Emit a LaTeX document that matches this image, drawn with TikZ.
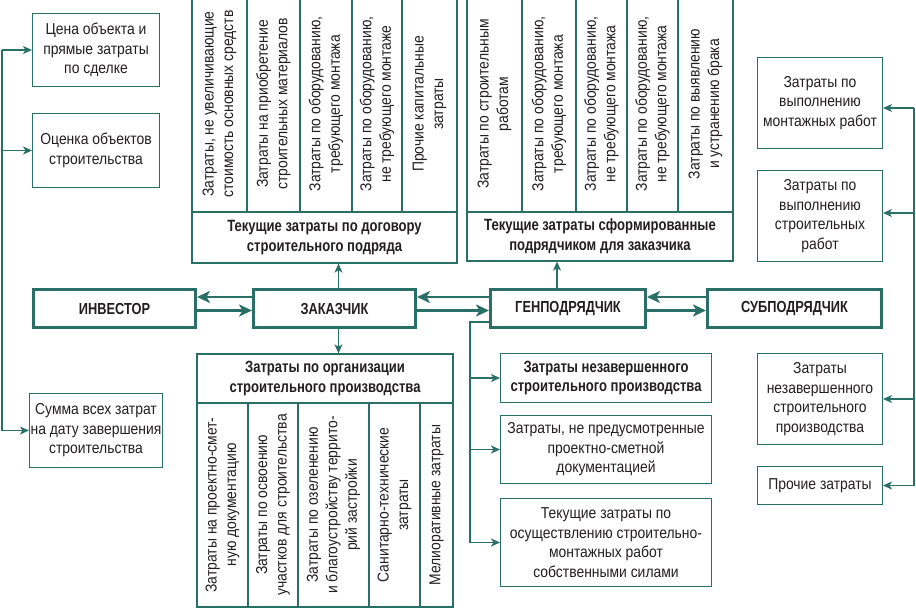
\documentclass[tikz,border=0pt]{standalone}
\usepackage{fontspec}
\setmainfont{Liberation Sans}[FakeStretch=0.88]
\newfontfamily\headfont{Liberation Sans}[FakeStretch=0.8]
\usetikzlibrary{arrows.meta,positioning}
\definecolor{teal}{HTML}{2A6F66}
\definecolor{ink}{HTML}{231F20}

\begin{document}
\begin{tikzpicture}[x=1pt,y=-1pt,
    every node/.style={font=\fontsize{15.8}{19.5}\selectfont,text=ink},
    cell/.style={draw=teal,line width=1.3pt,fill=white,align=center,inner sep=1pt},
    colcell/.style={cell,rotate=90},
    head/.style={cell,font=\headfont\bfseries\fontsize{16.3}{19.5}\selectfont},
    party/.style={draw=teal,line width=2.7pt,fill=white,minimum height=38.3pt,
        font=\headfont\bfseries\fontsize{16}{20}\selectfont},
    arr/.style={teal,line width=1.3pt,-{Stealth[length=9pt,width=8pt,inset=2.5pt]}},
    bigarr/.style={teal,line width=2.5pt,-{Stealth[length=13pt,width=12pt,inset=3.5pt]}},
    bus/.style={teal,line width=1.3pt}]
    \clip (0,0) rectangle (916,610);

    % main parties
    \node[party,minimum width=162.3pt] (inv) at (114.5,308.5) {ИНВЕСТОР};
    \node[party,minimum width=162.3pt] (zak) at (334.5,308.5) {ЗАКАЗЧИК};
    \node[party,minimum width=155.3pt] (gen) at (568,308.5) {ГЕНПОДРЯДЧИК};
    \node[party,minimum width=174.3pt] (sub) at (794.5,308.5) {СУБПОДРЯДЧИК};

    % left column
    \node[cell,minimum width=126.7pt,minimum height=72.7pt] (ob1) at (96,50)
        {Цена объекта и\\прямые затраты\\по сделке};
    \node[cell,minimum width=126.7pt,minimum height=73.7pt] (ob2) at (96,150.5)
        {Оценка объектов\\строительства};
    \node[cell,minimum width=126.7pt,minimum height=73.7pt] (ob3) at (96,430.5)
        {Сумма всех затрат\\на дату завершения\\строительства};

    % table over the customer
    \node[colcell,minimum width=216pt,minimum height=55pt] (a1) at (219.5,104)
        {Затраты, не увеличивающие\\стоимость основных средств};
    \node[colcell,minimum width=216pt,minimum height=53pt] (a2) at (273.5,104)
        {Затраты на приобретение\\строительных материалов};
    \node[colcell,minimum width=216pt,minimum height=52pt] (a3) at (326,104)
        {Затраты по оборудованию,\\требующего монтажа};
    \node[colcell,minimum width=216pt,minimum height=50pt] (a4) at (377,104)
        {Затраты по оборудованию,\\не требующего монтаже};
    \node[colcell,minimum width=216pt,minimum height=55pt] (a5) at (429.5,104)
        {Прочие капитальные\\затраты};
    \node[head,minimum width=265pt,minimum height=51pt] (tA) at (324.5,237.5)
        {Текущие затраты по договору\\строительного подряда};

    % table over the general contractor
    \node[colcell,minimum width=216pt,minimum height=55pt] (b1) at (494.5,104)
        {Затраты по строительным\\работам};
    \node[colcell,minimum width=216pt,minimum height=54pt] (b2) at (549,104)
        {Затраты по оборудованию,\\требующего монтажа};
    \node[colcell,minimum width=216pt,minimum height=51pt] (b3) at (601.5,104)
        {Затраты по оборудованию,\\не требующего монтажа};
    \node[colcell,minimum width=216pt,minimum height=51pt] (b4) at (652.5,104)
        {Затраты по оборудованию,\\не требующего монтажа};
    \node[colcell,minimum width=216pt,minimum height=55pt] (b5) at (705.5,104)
        {Затраты по выявлению\\и устранению брака};
    \node[head,minimum width=266pt,minimum height=49pt] (tB) at (600,236.5)
        {Текущие затраты сформированные\\подрядчиком для заказчика};

    % table under the customer
    \node[head,minimum width=256pt,minimum height=49pt] (tC) at (325,378.5)
        {Затраты по организации\\строительного производства};
    \node[colcell,minimum width=204pt,minimum height=51pt] (c1) at (222.5,505)
        {Затраты на проектно-смет-\\ную документацию};
    \node[colcell,minimum width=204pt,minimum height=50pt] (c2) at (273,505)
        {Затраты по освоению\\участков для строительства};
    \node[colcell,minimum width=204pt,minimum height=71pt] (c3) at (333.5,505)
        {Затраты по озеленению\\и благоустройству террито-\\рий застройки};
    \node[colcell,minimum width=204pt,minimum height=51pt] (c4) at (394.5,505)
        {Санитарно-технические\\затраты};
    \node[colcell,minimum width=204pt,minimum height=33pt] (c5) at (436.5,505)
        {Мелиоративные затраты};

    % under the general contractor
    \node[head,minimum width=210.7pt,minimum height=48.7pt] (mb1) at (606,378)
        {Затраты незавершенного\\строительного производства};
    \node[cell,minimum width=210.7pt,minimum height=67.7pt] (mb2) at (606,449.5)
        {Затраты, не предусмотренные\\проектно-сметной\\документацией};
    \node[cell,minimum width=210.7pt,minimum height=87.7pt] (mb3) at (606,542.5)
        {Текущие затраты по\\осуществлению строительно-\\монтажных работ\\собственными силами};

    % right column
    \node[cell,minimum width=124.7pt,minimum height=90.7pt] (rb1) at (820,103)
        {Затраты по\\выполнению\\монтажных работ};
    \node[cell,minimum width=124.7pt,minimum height=90.7pt] (rb2) at (820,216)
        {Затраты по\\выполнению\\строительных\\работ};
    \node[cell,minimum width=124.7pt,minimum height=90.7pt] (rb3) at (820,399)
        {Затраты\\незавершенного\\строительного\\производства};
    \node[cell,minimum width=124.7pt,minimum height=37.7pt] (rb4) at (820,485.5)
        {Прочие затраты};

    % flows between parties
    \draw[bigarr] ([yshift=11.5pt]zak.west) -- ([yshift=11.5pt]inv.east);
    \draw[bigarr] ([yshift=-2pt]inv.east) -- ([yshift=-2pt]zak.west);
    \draw[bigarr] ([yshift=11.5pt]gen.west) -- ([yshift=11.5pt]zak.east);
    \draw[bigarr] ([yshift=-2pt]zak.east) -- ([yshift=-2pt]gen.west);
    \draw[bigarr] ([yshift=11.5pt]sub.west) -- ([yshift=11.5pt]gen.east);
    \draw[bigarr] ([yshift=-2pt]gen.east) -- ([yshift=-2pt]sub.west);

    \draw[arr] ([xshift=4pt]zak.north) -- ([xshift=4pt]zak.north |- tA.south);
    \draw[arr] ([xshift=4pt]zak.south) -- ([xshift=4pt]zak.south |- tC.north);
    \draw[arr] ([xshift=-11pt]gen.north) -- ([xshift=-11pt]gen.north |- tB.south);

    % left bus
    \coordinate (lbx) at (2,0);
    \draw[bus] (lbx |- ob1.west) -- (lbx |- ob3.west);
    \foreach \b in {ob1,ob2,ob3}
        \draw[arr] (lbx |- \b.west) -- (\b.west);

    % bus of the general contractor
    \coordinate (mbx) at (470,0);
    \draw[bus] ([yshift=-13.5pt]gen.west) -| (mbx |- mb3.west);
    \foreach \b in {mb1,mb2,mb3}
        \draw[arr] (mbx |- \b.west) -- (\b.west);

    % right bus
    \coordinate (rbx) at (914,0);
    \draw[bus] ([yshift=-5pt]rb1.east -| rbx) -- (rbx |- rb4.east);
    \draw[arr] ([yshift=-5pt]rb1.east -| rbx) -- ([yshift=-5pt]rb1.east);
    \draw[arr] ([yshift=3pt]rb2.east -| rbx) -- ([yshift=3pt]rb2.east);
    \foreach \b in {rb3,rb4}
        \draw[arr] (rbx |- \b.east) -- (\b.east);
\end{tikzpicture}
\end{document}
